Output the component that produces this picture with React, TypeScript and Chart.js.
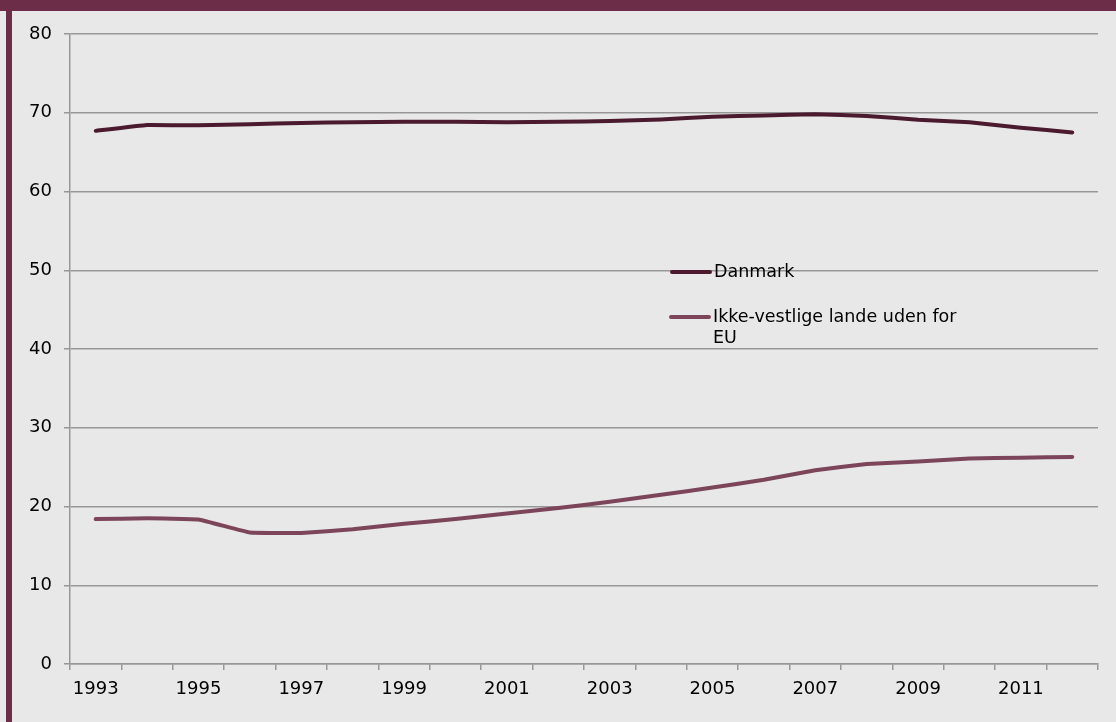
import React, { useEffect, useRef } from "react";
import { Chart, registerables } from "chart.js";

Chart.register(...registerables);

const years = ["1993","1994","1995","1996","1997","1998","1999","2000","2001","2002","2003","2004","2005","2006","2007","2008","2009","2010","2011","2012"];
const danmark = [67.7,68.45,68.4,68.55,68.7,68.8,68.85,68.85,68.8,68.85,68.95,69.15,69.5,69.65,69.8,69.6,69.1,68.8,68.1,67.5];
const ikkeVestlige = [18.4,18.5,18.35,16.7,16.65,17.1,17.8,18.4,19.1,19.8,20.6,21.5,22.4,23.4,24.6,25.4,25.7,26.1,26.2,26.3];
const seriesNames = ["Danmark", "Ikke-vestlige lande uden for EU"];
const legendLines = [["Danmark"], ["Ikke-vestlige lande uden for", "EU"]];

const FRAME = "#6B2D47";
const BG = "#E8E8E8";
const DARK = "#4B1A2E";
const LIGHT = "#7C4559";
const GRID = "#979797";
const FONT = "'DejaVu Sans', Verdana, sans-serif";

const legendPlugin = {
  id: "customLegend",
  afterDraw(chart: any) {
    const ctx = chart.ctx;
    const items = [
      { color: DARK, x: 672, y: 272, lines: legendLines[0] },
      { color: LIGHT, x: 671, y: 317, lines: legendLines[1] },
    ];
    ctx.save();
    for (const it of items) {
      ctx.strokeStyle = it.color;
      ctx.lineWidth = 4;
      ctx.lineCap = "round";
      ctx.beginPath();
      ctx.moveTo(it.x, it.y);
      ctx.lineTo(it.x + 38, it.y);
      ctx.stroke();
      ctx.fillStyle = "#000";
      ctx.font = `17.5px ${FONT}`;
      ctx.textBaseline = "middle";
      it.lines.forEach((t: string, i: number) => {
        ctx.fillText(t, it.x + 42, it.y + i * 21.5);
      });
    }
    ctx.restore();
  },
};

export default function App() {
  const ref = useRef<HTMLCanvasElement | null>(null);
  useEffect(() => {
    document.body.style.margin = "0";
    const chart = new Chart(ref.current as HTMLCanvasElement, {
      type: "line",
      data: {
        labels: years,
        datasets: [
          {
            label: seriesNames[0],
            data: danmark,
            borderColor: DARK,
            backgroundColor: DARK,
            borderWidth: 4,
            pointRadius: 0,
            tension: 0.08,
            borderCapStyle: "round",
            borderJoinStyle: "round",
          },
          {
            label: seriesNames[1],
            data: ikkeVestlige,
            borderColor: LIGHT,
            backgroundColor: LIGHT,
            borderWidth: 4,
            pointRadius: 0,
            tension: 0.08,
            borderCapStyle: "round",
            borderJoinStyle: "round",
          },
        ],
      },
      options: {
        animation: false,
        responsive: false,
        maintainAspectRatio: false,
        layout: { padding: { left: 0, top: 34, right: 18, bottom: 0 } },
        plugins: { legend: { display: false }, tooltip: { enabled: false } },
        scales: {
          x: {
            offset: true,
            grid: {
              offset: true,
              drawOnChartArea: false,
              drawTicks: true,
              tickLength: 6,
              color: GRID,
              lineWidth: 1.5,
            },
            border: { color: GRID, width: 1.5 },
            ticks: {
              autoSkip: false,
              maxRotation: 0,
              padding: 9,
              color: "#000",
              font: { family: FONT, size: 18 },
              callback: (_v: any, i: number) => (i % 2 === 0 ? years[i] : ""),
            },
            afterFit: (s: any) => {
              s.height = 58;
            },
          },
          y: {
            min: 0,
            max: 80,
            grid: { color: GRID, tickLength: 6, lineWidth: 1.5 },
            border: { color: GRID, width: 1.5 },
            ticks: {
              stepSize: 10,
              padding: 12,
              color: "#000",
              font: { family: FONT, size: 18 },
            },
            afterFit: (s: any) => {
              s.width = 70;
            },
          },
        },
      },
      plugins: [legendPlugin],
    });
    return () => chart.destroy();
  }, []);

  return (
    <div style={{ position: "fixed", left: 0, top: 0, width: 1116, height: 722, background: BG, overflow: "hidden" }}>
      <div style={{ position: "absolute", left: 0, top: 0, width: 1116, height: 11, background: FRAME }} />
      <div style={{ position: "absolute", left: 6, top: 0, width: 6, height: 722, background: FRAME }} />
      <canvas ref={ref} width={1116} height={722} style={{ position: "absolute", left: 0, top: 0, width: 1116, height: 722 }} />
    </div>
  );
}
